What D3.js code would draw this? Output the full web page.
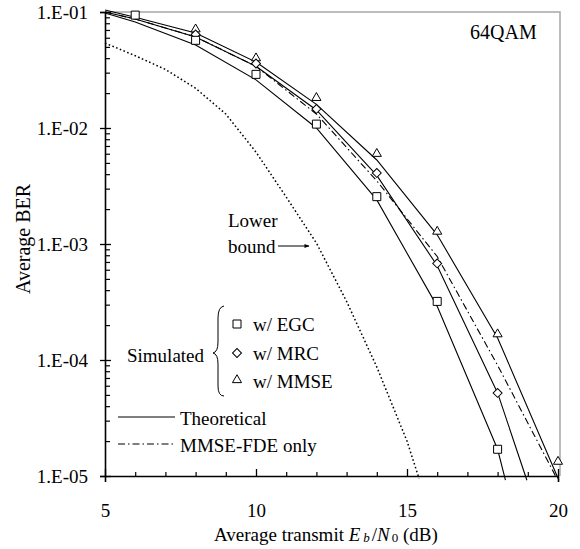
<!DOCTYPE html>
<html><head><meta charset="utf-8">
<script src="https://cdn.jsdelivr.net/npm/d3@7"></script>
<style>
html,body{margin:0;padding:0;background:#fff;}
svg{display:block;}
svg text{font-family:"Liberation Serif","Times New Roman",serif;}
</style></head>
<body>
<svg id="chart" width="580" height="549" font-family="Liberation Serif, Times New Roman, serif"></svg>
<script>
// ---- data ----
const simSNR = [6, 8, 10, 12, 14, 16, 18, 20];
const simEGC = [0.094, 0.057, 0.029, 0.0108, 0.00256, 3.2e-4, 1.7e-5, null];
const simMRC = [null, 0.064, 0.036, 0.0146, 0.0041, 6.8e-4, 5.2e-5, null];
const simMMSE = [null, 0.071, 0.040, 0.0182, 0.0060, 1.28e-3, 1.67e-4, 1.33e-5];

const thEGC_x = [5, 6, 8, 10, 12, 14, 16, 18, 18.26];
const thEGC_y = [0.098, 0.082, 0.052, 0.026, 0.010, 0.0024, 2.9e-4, 1.7e-5, 9.2e-6];
const thMRC_x = [5, 6, 8, 10, 12, 14, 16, 18, 18.97];
const thMRC_y = [0.100, 0.087, 0.061, 0.034, 0.0143, 0.0039, 6.5e-4, 5.2e-5, 9.2e-6];
const thMMSE_x = [5, 6, 8, 10, 12, 14, 16, 18, 20.03];
const thMMSE_y = [0.104, 0.090, 0.066, 0.037, 0.016, 0.0053, 1.2e-3, 1.55e-4, 9.2e-6];
const fde_x = [5, 6, 8, 10, 12, 14, 16, 18, 19.92];
const fde_y = [0.100, 0.087, 0.061, 0.034, 0.0132, 0.0035, 7.8e-4, 9.0e-5, 1.0e-5];
const lb_x = [5, 6, 7, 8, 9, 10, 11, 12, 13, 14, 15, 15.4];
const lb_y = [0.054, 0.042, 0.032, 0.022, 0.0132, 0.0062, 0.00254, 1.02e-3, 3.2e-4, 8.7e-5, 2.0e-5, 9.5e-6];

const xTicks = [5, 10, 15, 20];
const yTicks = [1e-1, 1e-2, 1e-3, 1e-4, 1e-5];
const yTickLabels = ["1.E-01", "1.E-02", "1.E-03", "1.E-04", "1.E-05"];

// ---- layout ----
const FONT = "Liberation Serif, Times New Roman, serif";
const svg = d3.select("#chart");
const L = 105, R = 558, T = 12, B = 476;
const x = d3.scaleLinear().domain([5, 20]).range([L, R]);
const y = d3.scaleLog().domain([1e-5, 1e-1]).range([B, T]);

svg.append("rect").attr("width", 580).attr("height", 549).attr("fill", "#fff");

// gray frame (top and right)
svg.append("path")
  .attr("d", `M${L},${T}H${R + 2}V${B}`)
  .attr("fill", "none").attr("stroke", "#a8a8a8").attr("stroke-width", 1.5);

// minor ticks
const minorY = [];
for (let e = -5; e < -1; e++) for (let m = 2; m <= 9; m++) minorY.push(m * Math.pow(10, e));
const minorX = d3.range(5, 21).filter(v => v % 5 !== 0);

const gY = svg.append("g").attr("transform", `translate(${L},0)`)
  .call(d3.axisLeft(y).tickValues(yTicks).tickFormat((d, i) => yTickLabels[i]).tickSize(5).tickPadding(12));
gY.attr("font-family", FONT);
gY.select(".domain").attr("stroke", "#000").attr("stroke-width", 1.6);
gY.selectAll(".tick line").attr("x1", -5).attr("x2", 6).attr("stroke-width", 1.3);
gY.selectAll(".tick text").attr("font-size", 19).attr("font-family", FONT).attr("fill", "#000").attr("dy", "0.35em");
const gYm = svg.append("g").attr("transform", `translate(${L},0)`)
  .call(d3.axisRight(y).tickValues(minorY).tickFormat("").tickSize(5));
gYm.select(".domain").remove();
gYm.selectAll(".tick line").attr("stroke-width", 1.2);

const gX = svg.append("g").attr("transform", `translate(0,${B})`)
  .call(d3.axisBottom(x).tickValues(xTicks).tickFormat(d3.format("d")).tickSize(6).tickPadding(22));
gX.attr("font-family", FONT);
gX.select(".domain").attr("stroke", "#000").attr("stroke-width", 1.6);
gX.selectAll(".tick line").attr("y1", -7).attr("y2", 0).attr("stroke-width", 1.3);
gX.selectAll(".tick text").attr("font-size", 19).attr("font-family", FONT).attr("fill", "#000");
const gXm = svg.append("g").attr("transform", `translate(0,${B})`)
  .call(d3.axisTop(x).tickValues(minorX).tickFormat("").tickSize(4));
gXm.select(".domain").remove();
gXm.selectAll(".tick line").attr("stroke-width", 1.2);

// ---- curves ----
const line = d3.line().x(d => x(d[0])).y(d => y(d[1]));
function curve(xs, ys, dash, w) {
  svg.append("path").datum(xs.map((v, i) => [v, ys[i]]))
    .attr("d", line).attr("fill", "none").attr("stroke", "#000")
    .attr("stroke-width", w || 1.1).attr("stroke-dasharray", dash || null);
}
curve(lb_x, lb_y, "1.6,2.4", 1.5);
curve(fde_x, fde_y, "7,3,1.5,3", 1.1);
curve(thEGC_x, thEGC_y);
curve(thMRC_x, thMRC_y);
curve(thMMSE_x, thMMSE_y);

// ---- markers ----
const symSquare = d3.symbol().type(d3.symbolSquare).size(64);
const symDiamond = d3.symbol().type(d3.symbolSquare).size(40);
const symTri = d3.symbol().type(d3.symbolTriangle).size(36);
function marker(g, kind, cx, cy) {
  const p = g.append("path").attr("fill", "#fff").attr("stroke", "#000").attr("stroke-width", 1);
  if (kind === "sq") p.attr("d", symSquare()).attr("transform", `translate(${cx},${cy})`);
  if (kind === "di") p.attr("d", symDiamond()).attr("transform", `translate(${cx},${cy}) rotate(45)`);
  if (kind === "tr") p.attr("d", symTri()).attr("transform", `translate(${cx},${cy})`);
}
const gm = svg.append("g");
function series(vals, kind) {
  vals.forEach((v, i) => { if (v != null) marker(gm, kind, x(simSNR[i]), y(v)); });
}
series(simMMSE, "tr");
series(simMRC, "di");
series(simEGC, "sq");

// ---- annotations ----
const txt = (t, tx, ty, opts = {}) => svg.append("text").attr("x", tx).attr("y", ty)
  .attr("font-family", FONT)
  .attr("font-size", opts.size || 19).attr("text-anchor", opts.anchor || "start").attr("fill", "#000").text(t);

txt("64QAM", 470, 39, { size: 20 });
txt("Lower", 228, 227);
txt("bound", 228, 253);
svg.append("defs").append("marker").attr("id", "ah").attr("viewBox", "0 0 10 10")
  .attr("refX", 9).attr("refY", 5).attr("markerWidth", 6).attr("markerHeight", 5).attr("orient", "auto")
  .append("path").attr("d", "M0,1L10,5L0,9Z").attr("fill", "#000");
svg.append("line").attr("x1", 278).attr("y1", 246).attr("x2", 309).attr("y2", 246)
  .attr("stroke", "#000").attr("stroke-width", 1).attr("marker-end", "url(#ah)");

txt("Simulated", 127, 362);
svg.append("path")
  .attr("d", "M224,306 Q218,307 218,318 L218,342 Q218,352 213,353 Q218,354 218,364 L218,386 Q218,396 224,396")
  .attr("fill", "none").attr("stroke", "#000").attr("stroke-width", 1);
marker(svg, "sq", 237, 324);
marker(svg, "di", 237, 353);
marker(svg, "tr", 237, 380);
txt("w/ EGC", 253, 331);
txt("w/ MRC", 253, 360);
txt("w/ MMSE", 253, 388);

svg.append("line").attr("x1", 118).attr("x2", 175).attr("y1", 417).attr("y2", 417).attr("stroke", "#000").attr("stroke-width", 1.1);
txt("Theoretical", 180, 425);
svg.append("line").attr("x1", 118).attr("x2", 176).attr("y1", 444).attr("y2", 444).attr("stroke", "#000").attr("stroke-width", 1.1).attr("stroke-dasharray", "7,3,1.5,3");
txt("MMSE-FDE only", 180, 452);

// axis titles
const xt = svg.append("text").attr("x", 214).attr("y", 541).attr("font-size", 19).attr("font-family", FONT).attr("fill", "#000");
xt.append("tspan").text("Average transmit ");
xt.append("tspan").attr("font-style", "italic").text("E");
xt.append("tspan").attr("font-style", "italic").attr("font-size", 13).attr("dx", 3).attr("dy", 1).text("b");
xt.append("tspan").attr("dx", 2).attr("dy", -1).text("/");
xt.append("tspan").attr("font-style", "italic").text("N");
xt.append("tspan").attr("font-size", 13).attr("dx", 2).attr("dy", 1).text("0");
xt.append("tspan").attr("dy", -1).text(" (dB)");

svg.append("text").attr("transform", "translate(30,239) rotate(-90)").attr("font-family", FONT)
  .attr("text-anchor", "middle").attr("font-size", 20).attr("fill", "#000").text("Average BER");
</script>
</body></html>
